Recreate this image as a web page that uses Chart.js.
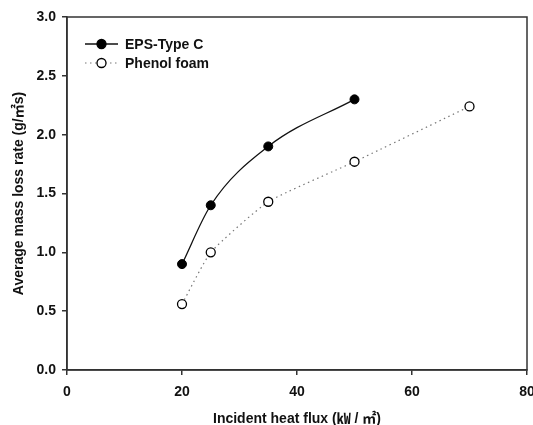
<!DOCTYPE html>
<html>
<head>
<meta charset="utf-8">
<script src="https://cdn.jsdelivr.net/npm/chart.js@4"></script>
<style>
  html, body { margin: 0; padding: 0; background: #fff; }
  #wrap { width: 533px; height: 425px; }
</style>
</head>
<body>
<div id="wrap"><canvas id="chart" width="533" height="425"></canvas></div>
<script>
const epsFlux = [20, 25, 35, 50];
const epsRate = [0.9, 1.4, 1.9, 2.3];
const phenolFlux = [20, 25, 35, 50, 70];
const phenolRate = [0.56, 1.0, 1.43, 1.77, 2.24];
const seriesNames = ['EPS-Type C', 'Phenol foam'];

const font = "'Liberation Sans', Arial, 'Noto Sans CJK KR', sans-serif";

function toPoints(xs, ys) {
    return xs.map((x, i) => ({x: x, y: ys[i]}));
}

// frame around the plot + legend in the top-left corner
const framePlugin = {
    id: 'frame',
    afterDatasetsDraw(chart) {
        const ctx = chart.ctx;
        const a = chart.chartArea;
        ctx.save();
        ctx.strokeStyle = '#333';
        ctx.lineWidth = 1.5;
        ctx.strokeRect(a.left, a.top, a.right - a.left, a.bottom - a.top);

        chart.data.datasets.forEach((ds, i) => {
            const y = 44 + i * 19;
            ctx.beginPath();
            ctx.setLineDash(ds.borderDash || []);
            ctx.strokeStyle = ds.borderColor;
            ctx.lineWidth = ds.borderWidth;
            ctx.moveTo(85, y);
            ctx.lineTo(118, y);
            ctx.stroke();
            ctx.setLineDash([]);
            ctx.beginPath();
            ctx.arc(101.5, y, 4.5, 0, Math.PI * 2);
            ctx.fillStyle = ds.pointBackgroundColor;
            ctx.fill();
            ctx.lineWidth = 1.3;
            ctx.strokeStyle = '#000';
            ctx.stroke();
            ctx.fillStyle = '#111';
            ctx.font = 'bold 14px ' + font;
            ctx.textBaseline = 'middle';
            ctx.fillText(ds.label, 125, y + 1);
        });
        ctx.restore();
    }
};

const ctx = document.getElementById('chart').getContext('2d');
new Chart(ctx, {
    type: 'scatter',
    data: {
        datasets: [{
            label: seriesNames[0],
            data: toPoints(epsFlux, epsRate),
            showLine: true,
            borderColor: '#111',
            borderWidth: 1.3,
            cubicInterpolationMode: 'monotone',
            pointRadius: 4.5,
            pointBackgroundColor: '#000',
            pointBorderColor: '#000',
            pointBorderWidth: 1
        }, {
            label: seriesNames[1],
            data: toPoints(phenolFlux, phenolRate),
            showLine: true,
            borderColor: '#777',
            borderWidth: 1.2,
            borderDash: [1.5, 3.5],
            tension: 0.15,
            pointRadius: 4.5,
            pointBackgroundColor: '#fff',
            pointBorderColor: '#000',
            pointBorderWidth: 1.3
        }]
    },
    options: {
        responsive: false,
        animation: false,
        layout: { padding: { top: 17, right: 6, left: 0, bottom: 0 } },
        plugins: {
            legend: { display: false },
            tooltip: { enabled: false }
        },
        scales: {
            x: {
                type: 'linear',
                min: 0,
                max: 80,
                ticks: {
                    stepSize: 20,
                    color: '#111',
                    font: { family: font, size: 14, weight: 'bold' },
                    padding: 9
                },
                grid: { drawOnChartArea: false, tickLength: 5, color: '#333', lineWidth: 1.5 },
                border: { color: '#333', width: 1.5 },
                title: {
                    display: true,
                    text: 'Incident heat flux (㎾ / ㎡)',
                    color: '#111',
                    font: { family: font, size: 14, weight: 'bold' },
                    padding: { top: 10, bottom: -3 }
                },
                afterFit(scale) {
                    scale.height = 55;
                    scale.paddingLeft = 0;
                    scale.paddingRight = 0;
                }
            },
            y: {
                min: 0,
                max: 3,
                ticks: {
                    stepSize: 0.5,
                    color: '#111',
                    font: { family: font, size: 14, weight: 'bold' },
                    padding: 6,
                    callback: v => v.toFixed(1)
                },
                grid: { drawOnChartArea: false, tickLength: 5, color: '#333', lineWidth: 1.5 },
                border: { color: '#333', width: 1.5 },
                title: {
                    display: true,
                    text: 'Average mass loss rate (g/㎡s)',
                    color: '#111',
                    font: { family: font, size: 14, weight: 'bold' },
                    padding: { top: 11, bottom: 4 }
                },
                afterFit(scale) {
                    scale.width = 67;
                    scale.paddingTop = 0;
                    scale.paddingBottom = 0;
                }
            }
        }
    },
    plugins: [framePlugin]
});
</script>
</body>
</html>
